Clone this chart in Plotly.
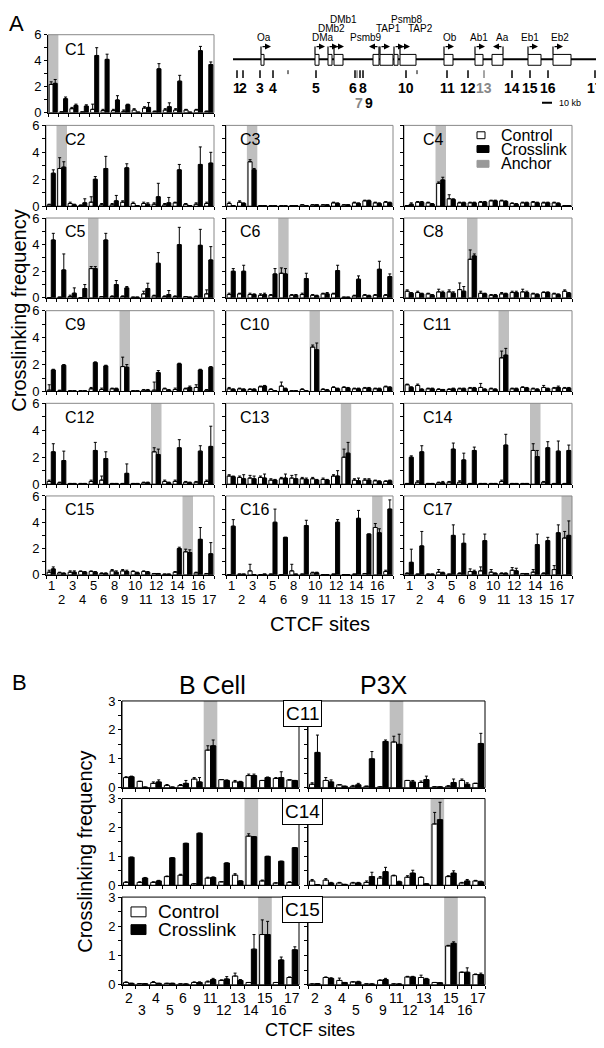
import plotly.graph_objects as go

# The page body has an 8 px default margin: the figure is sized to fill the
# remaining window area and every position below is given in window pixels.
WIN_W, WIN_H = 604, 1048
PAD = 8
W, H = WIN_W - PAD, WIN_H - PAD
FONT = "Arial, Liberation Sans, Helvetica, sans-serif"

# ---------------- data ----------------
sites_A = [1, 2, 3, 4, 5, 6, 8, 9, 10, 11, 12, 13, 14, 15, 16, 17]
sites_B = [2, 3, 4, 5, 6, 9, 11, 12, 13, 14, 15, 16, 17]

C1_ctrl = [2.17, 0.05, 0.3, 0.05, 0.25, 0.15, 0.15, 0.1, 0.2, 0.35, 0.1, 0.2, 0.2, 0.2, 0.2, 0.1]
C1_xl = [2.25, 1.07, 0.55, 0.5, 4.4, 4.1, 0.97, 0.6, 0.03, 0.4, 3.37, 0.45, 2.42, 0.03, 4.77, 3.7]
C1_ctrl_err = [0.2, 0, 0.1, 0, 0.4, 0.1, 0.1, 0.1, 0.1, 0.1, 0, 0.1, 0.1, 0.05, 0.05, 0]
C1_xl_err = [0.3, 0.13, 0.1, 0.1, 0.6, 0.4, 0.33, 0.05, 0, 0.37, 0.4, 0.3, 0.45, 0, 0.33, 0.2]

C2_ctrl = [0.1, 2.8, 0.2, 0.05, 0.3, 0.1, 0.1, 0.3, 0.2, 0.2, 0.15, 0.1, 0.25, 0.15, 0.15, 0.2]
C2_xl = [2.45, 2.9, 0.1, 0.25, 2.0, 2.8, 0.4, 2.85, 0.05, 0.15, 0.7, 0.25, 2.7, 0.05, 3.1, 3.2]
C2_ctrl_err = [0.05, 0.8, 0.1, 0.05, 0.4, 0.1, 0.1, 0.1, 0.1, 0.1, 0.1, 0.1, 0.05, 0.05, 0.1, 0.1]
C2_xl_err = [0.25, 0.4, 0.05, 0.3, 0.2, 0.9, 0.4, 0.3, 0, 0.1, 1.0, 0.4, 0.4, 0, 1.3, 0.8]

C3_ctrl = [0.2, 0.3, 3.3, 0.05, 0.03, 0.03, 0.05, 0.1, 0.1, 0.1, 0.25, 0.1, 0.25, 0.4, 0.25, 0.3]
C3_xl = [0.05, 0.2, 2.7, 0.05, 0.03, 0.03, 0.05, 0.05, 0.1, 0.1, 0.2, 0.1, 0.2, 0.4, 0.2, 0.25]
C3_ctrl_err = [0.1, 0.1, 0.15, 0, 0, 0, 0, 0, 0, 0, 0.05, 0, 0.05, 0.05, 0.05, 0.05]
C3_xl_err = [0, 0.05, 0.1, 0, 0, 0, 0, 0, 0, 0, 0.05, 0, 0.05, 0.05, 0.05, 0.05]

C4_ctrl = [0.05, 0.3, 0.25, 1.7, 0.55, 0.25, 0.25, 0.3, 0.4, 0.4, 0.2, 0.25, 0.3, 0.25, 0.25, 0.05]
C4_xl = [0.15, 0.3, 0.15, 1.95, 0.5, 0.25, 0.25, 0.3, 0.4, 0.35, 0.15, 0.25, 0.25, 0.25, 0.2, 0.05]
C4_ctrl_err = [0, 0.05, 0.05, 0.1, 0.3, 0.05, 0.05, 0.05, 0.05, 0.05, 0.05, 0.05, 0.05, 0.05, 0.05, 0]
C4_xl_err = [0.1, 0.05, 0.05, 0.2, 0.05, 0.05, 0.05, 0.05, 0.05, 0.05, 0.05, 0.05, 0.05, 0.05, 0.05, 0]

C5_ctrl = [0.02, 0.05, 0.1, 0.02, 2.2, 0.1, 0.1, 0.1, 0.05, 0.3, 0.15, 0.1, 0.1, 0.1, 0.1, 0.3]
C5_xl = [4.35, 2.1, 0.35, 0.7, 2.2, 4.35, 1.0, 0.75, 0.05, 0.7, 2.6, 0.25, 4.0, 0.05, 3.95, 2.85]
C5_ctrl_err = [0, 0, 0.1, 0, 0.15, 0, 0.05, 0.05, 0, 0.2, 0.05, 0.05, 0.05, 0, 0.05, 0.3]
C5_xl_err = [0.5, 1.2, 0.4, 0.3, 0.15, 0.5, 0.3, 0.1, 0, 0.4, 0.8, 0.3, 1.3, 0, 1.2, 1.0]

C6_ctrl = [0.25, 0.3, 0.25, 0.2, 0.2, 1.85, 0.2, 0.25, 0.2, 0.3, 0.3, 0.05, 0.15, 0.2, 0.2, 0.2]
C6_xl = [2.0, 2.0, 0.25, 0.25, 1.8, 1.8, 0.2, 1.45, 0.15, 0.3, 2.05, 0.05, 1.4, 0.15, 2.15, 1.6]
C6_ctrl_err = [0.1, 0.05, 0.1, 0.1, 0.05, 0.4, 0.05, 0.1, 0.05, 0.05, 0.05, 0, 0.05, 0.05, 0.05, 0.05]
C6_xl_err = [0.2, 0.45, 0.05, 0.1, 0.4, 0.4, 0.05, 0.4, 0.05, 0.1, 0.4, 0, 0.25, 0.05, 0.6, 0.2]

C8_ctrl = [0.5, 0.4, 0.3, 0.45, 0.45, 0.62, 2.9, 0.35, 0.2, 0.3, 0.4, 0.45, 0.3, 0.4, 0.3, 0.5]
C8_xl = [0.35, 0.3, 0.2, 0.4, 0.35, 0.5, 3.15, 0.3, 0.2, 0.3, 0.4, 0.4, 0.25, 0.4, 0.25, 0.35]
C8_ctrl_err = [0.1, 0.1, 0.05, 0.2, 0.15, 0.5, 0.7, 0.15, 0.05, 0.1, 0.1, 0.2, 0.05, 0.05, 0.05, 0.1]
C8_xl_err = [0.05, 0.05, 0.05, 0.1, 0.1, 0.35, 0.15, 0.05, 0.05, 0.05, 0.1, 0.1, 0.05, 0.05, 0.05, 0.05]

C9_ctrl = [0.1, 0.05, 0.05, 0.05, 0.2, 0.15, 0.2, 1.85, 0.05, 0.1, 0.1, 0.2, 0.15, 0.2, 0.3, 0.1]
C9_xl = [1.6, 1.95, 0.05, 0.05, 2.15, 1.9, 0.2, 1.8, 0.05, 0.1, 1.4, 0.1, 2.05, 0.3, 1.6, 1.8]
C9_ctrl_err = [0.4, 0.05, 0, 0, 0.1, 0.1, 0.05, 0.7, 0, 0.05, 0.6, 0.05, 0.1, 0.05, 0.2, 0.05]
C9_xl_err = [0.05, 0.05, 0, 0, 0.05, 0.05, 0.05, 0.2, 0, 0.05, 0.15, 0.05, 0.05, 0.1, 0.05, 0.05]

C10_ctrl = [0.2, 0.2, 0.15, 0.35, 0.15, 0.4, 0.05, 0.15, 3.3, 0.15, 0.3, 0.3, 0.2, 0.25, 0.2, 0.35]
C10_xl = [0.15, 0.15, 0.15, 0.4, 0.05, 0.2, 0.05, 0.05, 3.1, 0.1, 0.2, 0.25, 0.2, 0.25, 0.2, 0.3]
C10_ctrl_err = [0.1, 0.05, 0.05, 0.05, 0.05, 0.3, 0, 0.05, 0.15, 0.05, 0.05, 0.05, 0.05, 0.05, 0.05, 0.05]
C10_xl_err = [0.05, 0.05, 0.05, 0.05, 0, 0.05, 0, 0, 0.5, 0.05, 0.05, 0.05, 0.05, 0.05, 0.05, 0.05]

C11_ctrl = [0.5, 0.45, 0.2, 0.15, 0.15, 0.2, 0.25, 0.3, 0.2, 2.5, 0.2, 0.3, 0.2, 0.3, 0.25, 0.25]
C11_xl = [0.3, 0.15, 0.2, 0.15, 0.2, 0.2, 0.25, 0.15, 0.15, 2.7, 0.2, 0.25, 0.15, 0.2, 0.3, 0.25]
C11_ctrl_err = [0.05, 0.1, 0.05, 0.05, 0.05, 0.05, 0.05, 0.3, 0.05, 0.5, 0.05, 0.05, 0.05, 0.15, 0.05, 0.05]
C11_xl_err = [0.05, 0.05, 0.05, 0, 0.05, 0.05, 0.05, 0.05, 0.05, 0.5, 0.05, 0.05, 0.05, 0.05, 0.1, 0.05]

C12_ctrl = [0.2, 0.1, 0.05, 0.05, 0.2, 0.3, 0.05, 0.05, 0.05, 0.1, 2.4, 0.2, 0.2, 0.15, 0.15, 0.2]
C12_xl = [2.4, 1.75, 0.05, 0.05, 2.5, 1.9, 0.05, 0.8, 0.05, 0.1, 2.2, 0.1, 2.7, 0.1, 2.45, 2.8]
C12_ctrl_err = [0.1, 0.05, 0, 0, 0.1, 0.3, 0, 0, 0, 0.05, 0.3, 0.1, 0.1, 0.05, 0.05, 0.1]
C12_xl_err = [0.6, 0.7, 0, 0, 0.6, 0.5, 0, 0.7, 0, 0.05, 0.4, 0.05, 0.6, 0.05, 0.4, 1.5]

C13_ctrl = [0.6, 0.5, 0.45, 0.5, 0.3, 0.4, 0.45, 0.4, 0.4, 0.35, 0.6, 2.0, 0.3, 0.3, 0.25, 0.2]
C13_xl = [0.55, 0.4, 0.4, 0.45, 0.3, 0.45, 0.4, 0.35, 0.3, 0.3, 0.6, 2.3, 0.25, 0.3, 0.2, 0.25]
C13_ctrl_err = [0.1, 0.1, 0.2, 0.1, 0.1, 0.1, 0.2, 0.1, 0.1, 0.1, 0.1, 0.6, 0.1, 0.1, 0.05, 0.05]
C13_xl_err = [0.05, 0.3, 0.2, 0.3, 0.05, 0.3, 0.3, 0.1, 0.05, 0.05, 0.4, 0.8, 0.2, 0.1, 0.05, 0.05]

C14_ctrl = [0.05, 0.15, 0.05, 0.1, 0.15, 0.15, 0.05, 0.05, 0.05, 0.2, 0.05, 0.05, 2.5, 0.15, 0.05, 0.05]
C14_xl = [2.0, 2.4, 0.05, 0.1, 2.6, 1.8, 2.5, 0.05, 0.05, 2.9, 0.05, 0.05, 2.05, 2.7, 2.45, 2.5]
C14_ctrl_err = [0, 0.1, 0, 0.05, 0.05, 0.1, 0, 0, 0, 0.1, 0, 0, 0.5, 0.05, 0, 0]
C14_xl_err = [0.1, 0.45, 0, 0.1, 0.45, 0.5, 0.25, 0, 0, 0.8, 0, 0, 0.45, 0.45, 0.75, 0.4]

C15_ctrl = [0.2, 0.15, 0.2, 0.25, 0.25, 0.1, 0.3, 0.3, 0.25, 0.25, 0.1, 0.05, 0.2, 1.75, 0.15, 0.1]
C15_xl = [0.45, 0.1, 0.2, 0.2, 0.2, 0.1, 0.2, 0.25, 0.15, 0.2, 0.1, 0.05, 2.0, 1.7, 2.7, 1.6]
C15_ctrl_err = [0.15, 0.05, 0.1, 0.05, 0.05, 0.05, 0.1, 0.1, 0.05, 0.05, 0, 0, 0.05, 0.2, 0.05, 0]
C15_xl_err = [0.15, 0.05, 0.1, 0.05, 0.05, 0.05, 0.1, 0.1, 0.05, 0.05, 0, 0, 0.1, 0.2, 0.9, 0.85]

C16_ctrl = [0.02, 0.05, 0.3, 0.02, 0.05, 0.02, 0.3, 0.05, 0.15, 0.02, 0.05, 0.02, 0.05, 0.1, 3.6, 0.25]
C16_xl = [3.7, 0.05, 0.02, 0.05, 4.0, 2.85, 0.05, 3.75, 0.15, 0.02, 4.0, 0.02, 4.3, 3.1, 3.2, 5.0]
C16_ctrl_err = [0, 0, 0.5, 0, 0, 0, 0.5, 0, 0.05, 0, 0, 0, 0, 0, 0.3, 0.1]
C16_xl_err = [0.5, 0, 0, 0, 1.0, 0, 0, 0.4, 0.05, 0, 0.2, 0, 0.6, 0, 0.3, 0.7]

C17_ctrl = [0.1, 0.05, 0.05, 0.2, 0.05, 0.1, 0.25, 0.3, 0.2, 0.1, 0.35, 0.1, 0.2, 0.1, 0.4, 2.8]
C17_xl = [0.95, 2.2, 0.05, 0.15, 3.0, 2.4, 0.25, 2.6, 0.1, 0.1, 0.3, 0.1, 2.3, 2.6, 3.2, 3.0]
C17_ctrl_err = [0.05, 0, 0, 0.2, 0, 0.05, 0.2, 0.3, 0.2, 0.05, 0.2, 0, 0.2, 0.05, 0.3, 0.5]
C17_xl_err = [1.0, 1.1, 0, 0.05, 0.8, 0.7, 0.1, 0.5, 0.05, 0.05, 0.2, 0, 0.8, 0.25, 0.6, 1.1]

# Panel B: B cell and P3X
B11_bcell_ctrl = [0.35, 0.22, 0.15, 0.08, 0.08, 0.3, 1.3, 0.28, 0.2, 0.42, 0.25, 0.32, 0.27]
B11_bcell_xl = [0.38, 0.02, 0.2, 0.02, 0.15, 0.2, 1.45, 0.25, 0.2, 0.42, 0.35, 0.35, 0.25]
B11_bcell_ctrl_err = [0.03, 0, 0.05, 0.03, 0.03, 0.05, 0.15, 0, 0.05, 0.05, 0, 0.03, 0]
B11_bcell_xl_err = [0.02, 0, 0.07, 0, 0.1, 0.15, 0.2, 0.02, 0.02, 0.05, 0.02, 0.2, 0]
B11_p3x_ctrl = [0.12, 0.25, 0.1, 0.05, 0.05, 0.03, 1.58, 0.25, 0.18, 0.03, 0.05, 0.25, 0.15]
B11_p3x_xl = [1.22, 0.2, 0.05, 0.1, 1.0, 1.6, 1.5, 0.2, 0.28, 0.03, 0.18, 0.12, 1.53]
B11_p3x_ctrl_err = [0.05, 0.1, 0, 0.03, 0, 0, 0.2, 0, 0.05, 0, 0.02, 0.05, 0]
B11_p3x_xl_err = [0.6, 0.07, 0, 0.05, 0.25, 0.05, 0.35, 0.05, 0.12, 0, 0.12, 0.05, 0.35]

B14_bcell_ctrl = [0.1, 0.1, 0.1, 0.3, 0.35, 0.05, 0.25, 0.12, 0.35, 1.7, 0.15, 0.08, 0.1]
B14_bcell_xl = [0.97, 0.25, 0.15, 0.95, 1.45, 1.8, 0.27, 0.77, 0.15, 1.68, 1.0, 0.83, 1.3]
B14_bcell_ctrl_err = [0.02, 0.02, 0.02, 0.02, 0.03, 0, 0.03, 0, 0.05, 0.08, 0.03, 0, 0.02]
B14_bcell_xl_err = [0, 0.02, 0.02, 0, 0, 0, 0.02, 0, 0, 0, 0, 0, 0]
B14_p3x_ctrl = [0.15, 0.18, 0.08, 0.08, 0.1, 0.25, 0.33, 0.28, 0.27, 2.12, 0.3, 0.08, 0.15]
B14_p3x_xl = [0.02, 0.08, 0.03, 0.08, 0.3, 0.47, 0.12, 0.42, 0.05, 2.27, 0.42, 0.15, 0.12]
B14_p3x_ctrl_err = [0.05, 0.05, 0.02, 0.02, 0.05, 0.05, 0.02, 0.05, 0.02, 0.4, 0.03, 0.02, 0.02]
B14_p3x_xl_err = [0, 0.02, 0, 0.02, 0.15, 0.15, 0.02, 0.1, 0, 0.6, 0.08, 0.05, 0.02]

B15_bcell_ctrl = [0.08, 0.04, 0.08, 0.05, 0.03, 0.08, 0.1, 0.15, 0.3, 0.08, 1.72, 0.08, 0.25]
B15_bcell_xl = [0.05, 0.04, 0.05, 0.05, 0.03, 0.08, 0.18, 0.2, 0.15, 1.22, 1.72, 0.85, 1.2]
B15_bcell_ctrl_err = [0.02, 0, 0.03, 0, 0, 0.02, 0.03, 0.02, 0.1, 0, 0.5, 0, 0.02]
B15_bcell_xl_err = [0, 0, 0, 0, 0, 0.02, 0.04, 0.08, 0.03, 0.5, 0.45, 0.1, 0.1]
B15_p3x_ctrl = [0.03, 0.25, 0.15, 0.1, 0.03, 0.15, 0.03, 0.27, 0.25, 0.08, 1.33, 0.43, 0.35]
B15_p3x_xl = [0.04, 0.22, 0.08, 0.1, 0.03, 0.18, 0.03, 0.27, 0.2, 0.07, 1.42, 0.43, 0.35]
B15_p3x_ctrl_err = [0, 0.02, 0.08, 0, 0, 0.02, 0, 0.02, 0.08, 0, 0.02, 0, 0.02]
B15_p3x_xl_err = [0, 0.02, 0, 0.02, 0, 0.04, 0, 0.02, 0.02, 0, 0.05, 0.15, 0.05]

# Gene map of the MHC region (positions in kb)
gene_names = ["Oa", "DMa", "DMb2", "DMb1", "Psmb9", "TAP1", "Psmb8", "TAP2", "Ob", "Ab1", "Aa", "Eb1", "Eb2"]
gene_start = [28, 82, 95, 101, 140, 147, 161, 167, 211, 242, 259, 295, 320]
gene_end = [31, 86, 99, 110, 146, 160, 165, 183, 220, 250, 270, 308, 338]
gene_strand = [1, 1, 1, 1, -1, 1, 1, 1, 1, 1, -1, 1, 1]
gene_label_kb = [31, 90, 98, 110, 133, 155, 174, 187, 217, 246, 269, 297, 327]
gene_label_row = [0, 0, 1, 2, 0, 1, 2, 1, 0, 0, 0, 0, 0]
ctcf_ids = [1, 2, 3, 4, 5, 6, 7, 8, 9, 10, 11, 12, 13, 14, 15, 16, 17]
ctcf_kb = [4, 10, 27, 40, 83, 122, 124, 127, 130, 173, 214, 235, 251, 279, 297, 315, 362]
ctcf_label_kb = [4, 10, 27, 40, 83, 120, 126, 130, 136, 173, 214, 235, 251, 279, 297, 315, 362]
ctcf_label_row = [0, 0, 0, 0, 0, 0, 1, 0, 1, 0, 0, 0, 0, 0, 0, 0, 0]
ctcf_gray = [7, 13]
other_marks_kb = [55, 184]
map_length_kb = 367
scale_bar_kb = 10

# ---------------- layout helpers ----------------
def fx(px):
    return (px - PAD) / W

def fy(py):
    return 1 - (py - PAD) / H

fig = go.Figure()
layout = {}
shapes = []
annotations = []
counter = [0]


def nz(vals):
    return [v if v > 0 else None for v in vals]


def add_panel(ctrl, xl, ce, xe, box, anchor_idx, ymax, ystep, label_every,
              show_ylabels, frame_color, tick_font):
    counter[0] += 1
    n = counter[0]
    sx = "" if n == 1 else str(n)
    x0, x1, y0, y1 = box
    N = len(ctrl)
    layout["xaxis" + sx] = dict(
        domain=[fx(x0), fx(x1)], anchor="y" + sx, range=[-0.5, N - 0.5],
        showline=True, linecolor="black", linewidth=1, ticks="outside", ticklen=3,
        tickcolor="black", tickwidth=1, tickvals=[i - 0.5 for i in range(N + 1)],
        showticklabels=False, showgrid=False, zeroline=False, fixedrange=True)
    nt = int(round(ymax / ystep))
    yv = [round(k * ystep, 3) for k in range(nt + 1)]
    yt = [(f"{v:g}" if abs(v / label_every - round(v / label_every)) < 1e-6 else "") for v in yv]
    layout["yaxis" + sx] = dict(
        domain=[fy(y1), fy(y0)], anchor="x" + sx, range=[0, ymax],
        showline=True, linecolor="black", linewidth=1, ticks="outside", ticklen=3,
        tickcolor="black", tickwidth=1, tickvals=yv, ticktext=yt,
        showticklabels=show_ylabels, tickfont=dict(family=FONT, size=tick_font, color="black"),
        showgrid=False, zeroline=False, fixedrange=True)
    shapes.append(dict(type="rect", xref="x" + sx, yref="y" + sx + " domain",
                       x0=anchor_idx - 0.5, x1=anchor_idx + 0.5, y0=0, y1=1,
                       fillcolor="#bfbfbf", line=dict(width=0), layer="below"))
    shapes.append(dict(type="rect", xref="x" + sx + " domain", yref="y" + sx + " domain",
                       x0=0, x1=1, y0=0, y1=1, fillcolor="rgba(0,0,0,0)",
                       line=dict(color=frame_color, width=1), layer="below"))
    xs = list(range(N))
    fig.add_trace(go.Bar(
        x=xs, y=ctrl, xaxis="x" + sx, yaxis="y" + sx, showlegend=False, hoverinfo="skip",
        marker=dict(color="white", line=dict(color="black", width=1)),
        error_y=dict(type="data", symmetric=False, array=nz(ce), arrayminus=[0] * N,
                     color="black", thickness=1, width=1.5)))
    fig.add_trace(go.Bar(
        x=xs, y=xl, xaxis="x" + sx, yaxis="y" + sx, showlegend=False, hoverinfo="skip",
        marker=dict(color="black", line=dict(color="black", width=1)),
        error_y=dict(type="data", symmetric=False, array=nz(xe), arrayminus=[0] * N,
                     color="black", thickness=1, width=1.5)))
    return "x" + sx


def text(x, y, s, size, **kw):
    d = dict(x=x, y=y, xref="paper", yref="paper", text=s, showarrow=False,
             font=dict(family=FONT, size=size, color=kw.pop("color", "black")),
             xanchor=kw.pop("xanchor", "center"), yanchor=kw.pop("yanchor", "middle"))
    d.update(kw)
    annotations.append(d)


# ---------------- Panel A ----------------
A_series = {
    "C1": (C1_ctrl, C1_xl, C1_ctrl_err, C1_xl_err),
    "C2": (C2_ctrl, C2_xl, C2_ctrl_err, C2_xl_err),
    "C3": (C3_ctrl, C3_xl, C3_ctrl_err, C3_xl_err),
    "C4": (C4_ctrl, C4_xl, C4_ctrl_err, C4_xl_err),
    "C5": (C5_ctrl, C5_xl, C5_ctrl_err, C5_xl_err),
    "C6": (C6_ctrl, C6_xl, C6_ctrl_err, C6_xl_err),
    "C8": (C8_ctrl, C8_xl, C8_ctrl_err, C8_xl_err),
    "C9": (C9_ctrl, C9_xl, C9_ctrl_err, C9_xl_err),
    "C10": (C10_ctrl, C10_xl, C10_ctrl_err, C10_xl_err),
    "C11": (C11_ctrl, C11_xl, C11_ctrl_err, C11_xl_err),
    "C12": (C12_ctrl, C12_xl, C12_ctrl_err, C12_xl_err),
    "C13": (C13_ctrl, C13_xl, C13_ctrl_err, C13_xl_err),
    "C14": (C14_ctrl, C14_xl, C14_ctrl_err, C14_xl_err),
    "C15": (C15_ctrl, C15_xl, C15_ctrl_err, C15_xl_err),
    "C16": (C16_ctrl, C16_xl, C16_ctrl_err, C16_xl_err),
    "C17": (C17_ctrl, C17_xl, C17_ctrl_err, C17_xl_err),
}
A_grid = [["C2", "C3", "C4"], ["C5", "C6", "C8"], ["C9", "C10", "C11"],
          ["C12", "C13", "C14"], ["C15", "C16", "C17"]]
A_cols = [(46, 214), (226, 393), (404, 572)]
A_rows = [(120, 202), (214, 295), (308, 390), (402, 484), (496, 576)]
A_label_off = [17, 12, 17]

box = (48, 214, 28, 107)
c, x, ce, xe = A_series["C1"]
add_panel(c, x, ce, xe, box, sites_A.index(1), 6, 1, 2, True, "#888888", 13)
text(fx(48 + 15), fy(28 + 15), "C1", 16, xanchor="left")

for r, row in enumerate(A_grid):
    for ci, name in enumerate(row):
        bx = (A_cols[ci][0], A_cols[ci][1], A_rows[r][0], A_rows[r][1])
        c, x, ce, xe = A_series[name]
        xa = add_panel(c, x, ce, xe, bx, sites_A.index(int(name[1:])), 6, 1, 2,
                       ci == 0, "#888888", 13)
        text(fx(bx[0] + A_label_off[ci]), fy(bx[2] + 14), name, 16, xanchor="left")
        if r == len(A_grid) - 1:
            for i, s in enumerate(sites_A):
                annotations.append(dict(x=i, y=fy(587 if i % 2 == 0 else 601), xref=xa, yref="paper",
                                        text=str(s), showarrow=False,
                                        font=dict(family=FONT, size=13, color="black"),
                                        xanchor="center", yanchor="middle"))

text(fx(19), fy(308), "Crosslinking frequency", 20, textangle=-90)
text(fx(320), fy(626), "CTCF sites", 20)
text(fx(16), fy(17), "A", 22)

# legend of panel A (inside C4)
for yc, fill, wbox, lab in [(130, "white", 8, "Control"), (144, "black", 12, "Crosslink"),
                            (159, "#999999", 12, "Anchor")]:
    shapes.append(dict(type="rect", xref="paper", yref="paper", x0=fx(477), x1=fx(477 + wbox),
                       y0=fy(yc + 3.5), y1=fy(yc - 3.5), fillcolor=fill,
                       line=dict(color="black" if fill != "#999999" else "#999999", width=1)))
    text(fx(499), fy(yc), lab, 16, xanchor="left")

# ---------------- Gene map ----------------
MAPX, MAPY = "x30", "y30"
layout["xaxis30"] = dict(domain=[fx(233), fx(603)], range=[0, 370], visible=False,
                         anchor="y30", fixedrange=True)
layout["yaxis30"] = dict(domain=[fy(105), fy(8)], range=[105, 8], visible=False,
                         anchor="x30", fixedrange=True)
line_y, box_top, box_bot, arrow_y = 53, 48, 59, 40
shapes.append(dict(type="line", xref=MAPX, yref=MAPY, x0=0, x1=map_length_kb, y0=line_y, y1=line_y,
                   line=dict(color="black", width=2)))
row_y = [31, 21.5, 12.5]
for nm, s0, s1, st, lk, lr in zip(gene_names, gene_start, gene_end, gene_strand,
                                   gene_label_kb, gene_label_row):
    shapes.append(dict(type="rect", xref=MAPX, yref=MAPY, x0=s0, x1=s1, y0=box_top, y1=box_bot,
                       fillcolor="white", line=dict(color="black", width=1)))
    base = s0 if st > 0 else s1
    tip = base + 10 * st
    shapes.append(dict(type="line", xref=MAPX, yref=MAPY, x0=base, x1=base, y0=box_top, y1=arrow_y,
                       line=dict(color="black", width=1.2)))
    annotations.append(dict(x=tip, y=arrow_y, ax=base, ay=arrow_y, xref=MAPX, yref=MAPY,
                            axref=MAPX, ayref=MAPY, text="", showarrow=True, arrowhead=2,
                            arrowsize=1, arrowwidth=1.2, arrowcolor="black"))
    annotations.append(dict(x=lk, y=row_y[lr], xref=MAPX, yref=MAPY, text=nm, showarrow=False,
                            font=dict(family=FONT, size=10, color="black"), xanchor="center",
                            yanchor="middle", borderpad=0))
for sid, kb, lkb, lrow in zip(ctcf_ids, ctcf_kb, ctcf_label_kb, ctcf_label_row):
    col = "#888888" if sid in ctcf_gray else "black"
    shapes.append(dict(type="line", xref=MAPX, yref=MAPY, x0=kb, x1=kb, y0=64, y1=72,
                       line=dict(color=col, width=1.5)))
    annotations.append(dict(x=lkb, y=82 if lrow == 0 else 97, xref=MAPX, yref=MAPY,
                            text=f"<b>{sid}</b>", showarrow=False,
                            font=dict(family=FONT, size=14, color=col),
                            xanchor="center", yanchor="middle"))
for kb in other_marks_kb:
    shapes.append(dict(type="line", xref=MAPX, yref=MAPY, x0=kb, x1=kb, y0=64, y1=68,
                       line=dict(color="black", width=1)))
shapes.append(dict(type="line", xref=MAPX, yref=MAPY, x0=309, x1=309 + scale_bar_kb, y0=97, y1=97,
                   line=dict(color="black", width=2)))
annotations.append(dict(x=324, y=97, xref=MAPX, yref=MAPY, text=f"{scale_bar_kb} kb",
                        showarrow=False, font=dict(family=FONT, size=9, color="black"),
                        xanchor="left", yanchor="middle"))

# ---------------- Panel B ----------------
B_rows_data = [
    ("C11", "11", (B11_bcell_ctrl, B11_bcell_xl, B11_bcell_ctrl_err, B11_bcell_xl_err),
     (B11_p3x_ctrl, B11_p3x_xl, B11_p3x_ctrl_err, B11_p3x_xl_err)),
    ("C14", "14", (B14_bcell_ctrl, B14_bcell_xl, B14_bcell_ctrl_err, B14_bcell_xl_err),
     (B14_p3x_ctrl, B14_p3x_xl, B14_p3x_ctrl_err, B14_p3x_xl_err)),
    ("C15", "15", (B15_bcell_ctrl, B15_bcell_xl, B15_bcell_ctrl_err, B15_bcell_xl_err),
     (B15_p3x_ctrl, B15_p3x_xl, B15_p3x_ctrl_err, B15_p3x_xl_err)),
]
B_cols = [(122, 299), (308, 485)]
B_rows = [(704, 792), (803, 891), (903, 992)]
for r, (name, site, left, right) in enumerate(B_rows_data):
    ai = sites_B.index(int(site))
    for ci, data in enumerate([left, right]):
        bx = (B_cols[ci][0], B_cols[ci][1], B_rows[r][0], B_rows[r][1])
        xa = add_panel(*data, bx, ai, 3, 0.5, 1, ci == 0, "black", 13)
        if r == len(B_rows_data) - 1:
            for i, s in enumerate(sites_B):
                annotations.append(dict(x=i, y=fy(1005 if i % 2 == 0 else 1018), xref=xa,
                                        yref="paper", text=str(s), showarrow=False,
                                        font=dict(family=FONT, size=14, color="black"),
                                        xanchor="center", yanchor="middle"))
    text(fx(302), fy(B_rows[r][0] + 13), name, 19, bgcolor="white", bordercolor="black",
         borderwidth=1, borderpad=2)

text(fx(212), fy(688), "B Cell", 25)
text(fx(384), fy(688), "P3X", 25)
text(fx(19), fy(685), "B", 22)
text(fx(85), fy(857), "Crosslinking frequency", 20, textangle=-90)
text(fx(310), fy(1038), "CTCF sites", 18)

# legend of panel B (inside C15 B cell)
for yc, fill, lab in [(918, "white", "Control"), (936, "black", "Crosslink")]:
    shapes.append(dict(type="rect", xref="paper", yref="paper", x0=fx(131), x1=fx(146),
                       y0=fy(yc + 5), y1=fy(yc - 5), fillcolor=fill,
                       line=dict(color="black", width=1)))
    text(fx(156), fy(yc), lab, 19, xanchor="left")

fig.update_layout(
    width=W, height=H, margin=dict(l=0, r=0, t=0, b=0),
    paper_bgcolor="white", plot_bgcolor="white",
    barmode="group", bargap=0.22, bargroupgap=0,
    showlegend=False, font=dict(family=FONT, color="black"),
    shapes=shapes, annotations=annotations, **layout)

fig.write_html("out.html")
